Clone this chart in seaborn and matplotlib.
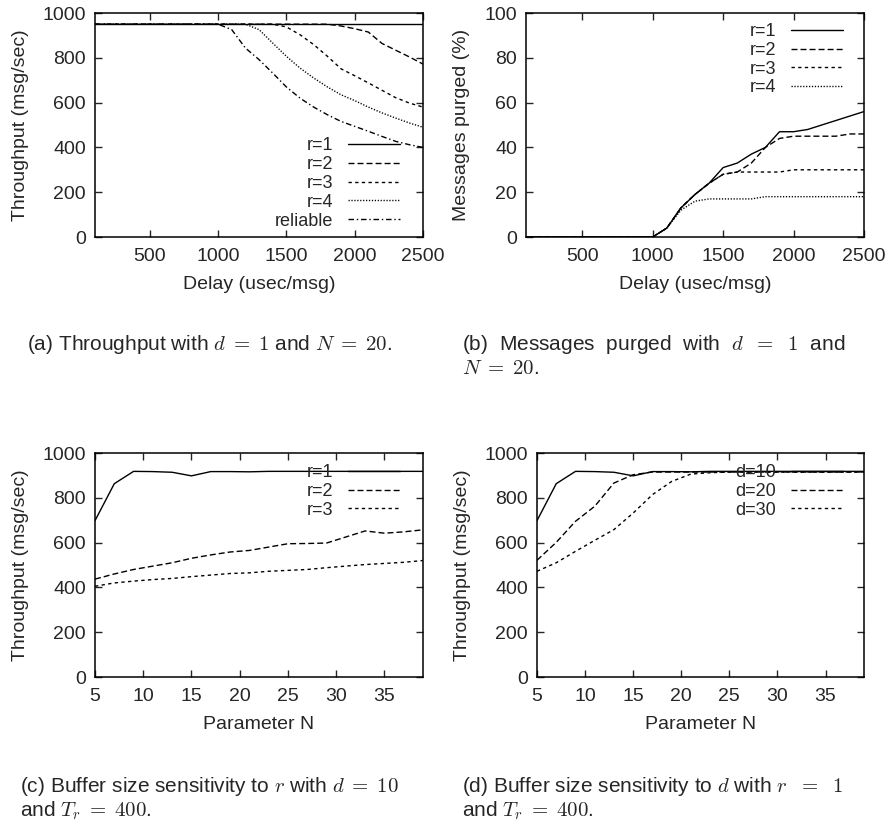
import matplotlib
matplotlib.use("Agg")
import matplotlib.pyplot as plt
import seaborn as sns

W, H = 889, 824

# (a)/(b): delay in usec/msg
delay = [100, 200, 300, 400, 500, 600, 700, 800, 900, 1000, 1100, 1200, 1300,
         1400, 1500, 1600, 1700, 1800, 1900, 2000, 2100, 2200, 2300, 2400, 2500]

thr_r1 = [950, 950, 950, 950, 950, 950, 950, 950, 950, 950, 950, 950, 950,
          950, 950, 950, 950, 950, 950, 950, 950, 950, 950, 950, 950]
thr_r2 = [950, 950, 950, 950, 950, 950, 950, 950, 950, 950, 950, 950, 950,
          950, 950, 950, 950, 950, 942, 930, 915, 864, 834, 804, 772]
thr_r3 = [950, 950, 950, 950, 950, 950, 950, 950, 950, 950, 950, 950, 950,
          950, 938, 903, 859, 807, 751, 720, 688, 655, 622, 598, 580]
thr_r4 = [950, 950, 950, 950, 950, 950, 950, 950, 950, 950, 950, 950, 926,
          866, 807, 754, 710, 670, 635, 609, 580, 554, 531, 509, 490]
thr_rel = [950, 950, 950, 950, 950, 950, 950, 950, 950, 950, 926, 844, 792,
           732, 670, 620, 580, 546, 516, 494, 472, 449, 427, 412, 400]

pur_r1 = [0, 0, 0, 0, 0, 0, 0, 0, 0, 0, 4, 13, 19, 24, 31, 33, 37, 40, 47, 47, 48, 50, 52, 54, 56]
pur_r2 = [0, 0, 0, 0, 0, 0, 0, 0, 0, 0, 4, 13, 19, 24, 28, 29, 33, 40, 44, 45, 45, 45, 45, 46, 46]
pur_r3 = [0, 0, 0, 0, 0, 0, 0, 0, 0, 0, 4, 13, 19, 24, 28, 29, 29, 29, 29, 30, 30, 30, 30, 30, 30]
pur_r4 = [0, 0, 0, 0, 0, 0, 0, 0, 0, 0, 4, 12, 16, 17, 17, 17, 17, 18, 18, 18, 18, 18, 18, 18, 18]

# (c)/(d): parameter N
param_n = [5, 7, 9, 11, 13, 15, 17, 19, 21, 23, 25, 27, 29, 31, 33, 35, 37, 39]

buf_r1 = [698, 863, 918, 917, 914, 898, 917, 917, 916, 918, 918, 918, 918, 918, 918, 918, 918, 918]
buf_r2 = [437, 460, 480, 495, 510, 530, 545, 558, 565, 580, 595, 596, 598, 625, 652, 642, 648, 657]
buf_r3 = [405, 420, 428, 435, 440, 448, 455, 462, 465, 472, 476, 480, 488, 495, 502, 507, 512, 520]

buf_d10 = [698, 863, 918, 917, 914, 898, 917, 917, 916, 918, 918, 918, 918, 918, 918, 918, 918, 918]
buf_d20 = [521, 601, 695, 762, 866, 903, 915, 915, 915, 915, 915, 915, 915, 915, 915, 915, 915, 915]
buf_d30 = [472, 510, 561, 610, 658, 732, 814, 873, 906, 912, 915, 915, 915, 915, 915, 915, 915, 915]

STYLES = {
    "solid": "-",
    "long": (0, (4.3, 2.2)),
    "short": (0, (2.4, 2.4)),
    "dot": (0, (0.9, 1.2)),
    "dashdot": (0, (4.0, 2.0, 1.0, 2.0)),
}

sns.set_style("ticks")
plt.rcParams["font.family"] = ["Liberation Sans", "DejaVu Sans"]
plt.rcParams["mathtext.fontset"] = "cm"
plt.rcParams["font.size"] = 14
plt.rcParams["axes.linewidth"] = 1.1
plt.rcParams["axes.edgecolor"] = "black"
plt.rcParams["xtick.direction"] = "in"
plt.rcParams["ytick.direction"] = "in"
plt.rcParams["xtick.top"] = True
plt.rcParams["ytick.right"] = True
plt.rcParams["xtick.major.size"] = 5
plt.rcParams["ytick.major.size"] = 5
plt.rcParams["xtick.major.width"] = 1
plt.rcParams["ytick.major.width"] = 1
plt.rcParams["xtick.major.pad"] = 8
plt.rcParams["ytick.major.pad"] = 6.5
plt.rcParams["xtick.labelsize"] = 14
plt.rcParams["ytick.labelsize"] = 14

fig = plt.figure(figsize=(W / 100, H / 100), dpi=100)


def px_axes(left, top, right, bottom):
    return fig.add_axes([left / W, 1 - bottom / H, (right - left) / W, (bottom - top) / H])


def draw(ax, x, series, labels, styles):
    for y, lbl, st in zip(series, labels, styles):
        sns.lineplot(x=x, y=y, ax=ax, color="black", lw=1.0,
                     linestyle=STYLES[st], label=lbl)


def finish(ax, xlabel, ylabel, anchor):
    ax.set_xlabel(xlabel, fontsize=14, labelpad=8)
    ax.set_ylabel(ylabel, fontsize=14, labelpad=10)
    ax.legend(loc="upper right", bbox_to_anchor=anchor, frameon=False,
              markerfirst=False, fontsize=13, labelspacing=0.1,
              handlelength=2.9, handletextpad=0.8, borderpad=0,
              borderaxespad=0)


# (a)
ax = px_axes(95, 13, 423, 237)
draw(ax, delay, [thr_r1, thr_r2, thr_r3, thr_r4, thr_rel],
     ["r=1", "r=2", "r=3", "r=4", "reliable"],
     ["solid", "long", "short", "dot", "dashdot"])
ax.set_xlim(100, 2500)
ax.set_ylim(0, 1000)
ax.set_xticks([500, 1000, 1500, 2000, 2500])
ax.set_yticks([0, 200, 400, 600, 800, 1000])
finish(ax, "Delay (usec/msg)", "Throughput (msg/sec)", (0.93, 0.445))

# (b)
ax = px_axes(526, 13, 864, 237)
draw(ax, delay, [pur_r1, pur_r2, pur_r3, pur_r4],
     ["r=1", "r=2", "r=3", "r=4"],
     ["solid", "long", "short", "dot"])
ax.set_xlim(100, 2500)
ax.set_ylim(0, 100)
ax.set_xticks([500, 1000, 1500, 2000, 2500])
ax.set_yticks([0, 20, 40, 60, 80, 100])
finish(ax, "Delay (usec/msg)", "Messages purged (%)", (0.938, 0.955))

# (c)
ax = px_axes(95, 453, 423, 677)
draw(ax, param_n, [buf_r1, buf_r2, buf_r3],
     ["r=1", "r=2", "r=3"], ["solid", "long", "short"])
ax.set_xlim(5, 39)
ax.set_ylim(0, 1000)
ax.set_xticks([5, 10, 15, 20, 25, 30, 35])
ax.set_yticks([0, 200, 400, 600, 800, 1000])
finish(ax, "Parameter N", "Throughput (msg/sec)", (0.93, 0.95))

# (d)
ax = px_axes(537, 453, 864, 677)
draw(ax, param_n, [buf_d10, buf_d20, buf_d30],
     ["d=10", "d=20", "d=30"], ["solid", "long", "short"])
ax.set_xlim(5, 39)
ax.set_ylim(0, 1000)
ax.set_xticks([5, 10, 15, 20, 25, 30, 35])
ax.set_yticks([0, 200, 400, 600, 800, 1000])
finish(ax, "Parameter N", "Throughput (msg/sec)", (0.936, 0.95))

# captions
cap = dict(fontsize=15, va="center", ha="left")
fig.text(27 / W, 1 - 345 / H, r"(a) Throughput with $d\;=\;1$ and $N\;=\;20$.", **cap)
fig.text(462 / W, 1 - 345 / H, r"(b)  Messages  purged  with  $d\ \;=\ \;1$  and", **cap)
fig.text(462 / W, 1 - 368 / H, r"$N\;=\;20$.", **cap)
fig.text(20 / W, 1 - 786 / H, r"(c) Buffer size sensitivity to $r$ with $d\;=\;10$", **cap)
fig.text(20 / W, 1 - 811 / H, r"and $T_r\;=\;400$.", **cap)
fig.text(462 / W, 1 - 786 / H, r"(d) Buffer size sensitivity to $d$ with $r\ \;=\ \;1$", **cap)
fig.text(462 / W, 1 - 811 / H, r"and $T_r\;=\;400$.", **cap)

fig.savefig("out.png", dpi=100)
